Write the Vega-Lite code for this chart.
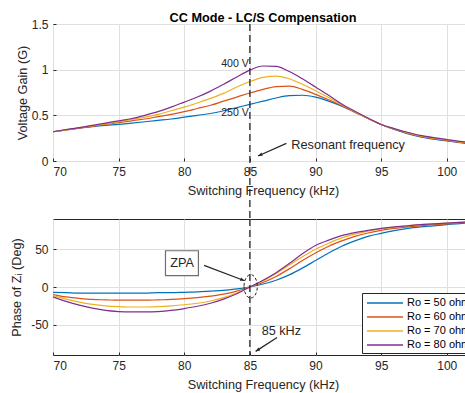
{
  "$schema": "https://vega.github.io/schema/vega-lite/v6.json",
  "background": "white",
  "padding": {"left": 10, "top": 11, "right": 0, "bottom": 0},
  "bounds": "flush",
  "spacing": 58,
  "config": {
    "font": "Liberation Sans",
    "view": {"stroke": "#262626", "strokeWidth": 1},
    "axis": {
      "grid": true, "gridColor": "#dfdfdf", "domain": false,
      "ticks": true, "tickSize": -3, "tickColor": "#262626",
      "labelFont": "Liberation Sans", "labelFontSize": 12, "labelColor": "#262626", "labelPadding": 8,
      "titleFont": "Liberation Sans", "titleFontSize": 12.7, "titleFontWeight": "normal", "titleColor": "#262626"
    },
    "axisX": {"titlePadding": 7},
    "axisY": {"minExtent": 0},
    "title": {"font": "Liberation Sans", "fontSize": 12.7, "fontWeight": "bold", "color": "#000000"}
  },
  "datasets": {
    "gain": [
      {"f":70,"v":0.32,"load":50},{"f":71,"v":0.34,"load":50},{"f":72,"v":0.36,"load":50},{"f":73,"v":0.375,"load":50},{"f":74,"v":0.39,"load":50},{"f":75,"v":0.40,"load":50},{"f":76,"v":0.415,"load":50},{"f":77,"v":0.43,"load":50},{"f":78,"v":0.445,"load":50},{"f":79,"v":0.46,"load":50},{"f":80,"v":0.48,"load":50},{"f":81,"v":0.50,"load":50},{"f":82,"v":0.52,"load":50},{"f":83,"v":0.55,"load":50},{"f":84,"v":0.585,"load":50},{"f":85,"v":0.62,"load":50},{"f":86,"v":0.655,"load":50},{"f":87,"v":0.69,"load":50},{"f":88,"v":0.715,"load":50},{"f":89,"v":0.72,"load":50},{"f":90,"v":0.70,"load":50},{"f":91,"v":0.655,"load":50},{"f":92,"v":0.60,"load":50},{"f":93,"v":0.535,"load":50},{"f":94,"v":0.465,"load":50},{"f":95,"v":0.40,"load":50},{"f":96,"v":0.345,"load":50},{"f":97,"v":0.30,"load":50},{"f":98,"v":0.265,"load":50},{"f":99,"v":0.24,"load":50},{"f":100,"v":0.22,"load":50},{"f":101,"v":0.20,"load":50},{"f":102,"v":0.185,"load":50},
      {"f":70,"v":0.32,"load":60},{"f":71,"v":0.34,"load":60},{"f":72,"v":0.36,"load":60},{"f":73,"v":0.38,"load":60},{"f":74,"v":0.40,"load":60},{"f":75,"v":0.42,"load":60},{"f":76,"v":0.44,"load":60},{"f":77,"v":0.46,"load":60},{"f":78,"v":0.485,"load":60},{"f":79,"v":0.51,"load":60},{"f":80,"v":0.54,"load":60},{"f":81,"v":0.575,"load":60},{"f":82,"v":0.61,"load":60},{"f":83,"v":0.655,"load":60},{"f":84,"v":0.70,"load":60},{"f":85,"v":0.745,"load":60},{"f":86,"v":0.785,"load":60},{"f":87,"v":0.815,"load":60},{"f":88,"v":0.82,"load":60},{"f":89,"v":0.785,"load":60},{"f":90,"v":0.73,"load":60},{"f":91,"v":0.67,"load":60},{"f":92,"v":0.605,"load":60},{"f":93,"v":0.535,"load":60},{"f":94,"v":0.465,"load":60},{"f":95,"v":0.40,"load":60},{"f":96,"v":0.35,"load":60},{"f":97,"v":0.305,"load":60},{"f":98,"v":0.27,"load":60},{"f":99,"v":0.245,"load":60},{"f":100,"v":0.225,"load":60},{"f":101,"v":0.205,"load":60},{"f":102,"v":0.19,"load":60},
      {"f":70,"v":0.32,"load":70},{"f":71,"v":0.34,"load":70},{"f":72,"v":0.365,"load":70},{"f":73,"v":0.385,"load":70},{"f":74,"v":0.405,"load":70},{"f":75,"v":0.43,"load":70},{"f":76,"v":0.455,"load":70},{"f":77,"v":0.48,"load":70},{"f":78,"v":0.51,"load":70},{"f":79,"v":0.55,"load":70},{"f":80,"v":0.59,"load":70},{"f":81,"v":0.635,"load":70},{"f":82,"v":0.685,"load":70},{"f":83,"v":0.74,"load":70},{"f":84,"v":0.81,"load":70},{"f":85,"v":0.87,"load":70},{"f":86,"v":0.915,"load":70},{"f":87,"v":0.93,"load":70},{"f":88,"v":0.90,"load":70},{"f":89,"v":0.84,"load":70},{"f":90,"v":0.77,"load":70},{"f":91,"v":0.695,"load":70},{"f":92,"v":0.615,"load":70},{"f":93,"v":0.54,"load":70},{"f":94,"v":0.465,"load":70},{"f":95,"v":0.40,"load":70},{"f":96,"v":0.35,"load":70},{"f":97,"v":0.31,"load":70},{"f":98,"v":0.275,"load":70},{"f":99,"v":0.25,"load":70},{"f":100,"v":0.23,"load":70},{"f":101,"v":0.21,"load":70},{"f":102,"v":0.195,"load":70},
      {"f":70,"v":0.32,"load":80},{"f":71,"v":0.345,"load":80},{"f":72,"v":0.365,"load":80},{"f":73,"v":0.39,"load":80},{"f":74,"v":0.415,"load":80},{"f":75,"v":0.44,"load":80},{"f":76,"v":0.465,"load":80},{"f":77,"v":0.50,"load":80},{"f":78,"v":0.54,"load":80},{"f":79,"v":0.59,"load":80},{"f":80,"v":0.645,"load":80},{"f":81,"v":0.70,"load":80},{"f":82,"v":0.765,"load":80},{"f":83,"v":0.84,"load":80},{"f":84,"v":0.92,"load":80},{"f":85,"v":0.995,"load":80},{"f":86,"v":1.04,"load":80},{"f":87,"v":1.035,"load":80},{"f":88,"v":0.98,"load":80},{"f":89,"v":0.90,"load":80},{"f":90,"v":0.81,"load":80},{"f":91,"v":0.72,"load":80},{"f":92,"v":0.625,"load":80},{"f":93,"v":0.545,"load":80},{"f":94,"v":0.47,"load":80},{"f":95,"v":0.40,"load":80},{"f":96,"v":0.355,"load":80},{"f":97,"v":0.315,"load":80},{"f":98,"v":0.28,"load":80},{"f":99,"v":0.255,"load":80},{"f":100,"v":0.235,"load":80},{"f":101,"v":0.215,"load":80},{"f":102,"v":0.20,"load":80}
    ],
    "phase": [
      {"f":70,"v":-7,"load":50},{"f":71,"v":-7.5,"load":50},{"f":72,"v":-8,"load":50},{"f":73,"v":-8,"load":50},{"f":74,"v":-8,"load":50},{"f":75,"v":-8,"load":50},{"f":76,"v":-8,"load":50},{"f":77,"v":-8,"load":50},{"f":78,"v":-7.5,"load":50},{"f":79,"v":-7.5,"load":50},{"f":80,"v":-7,"load":50},{"f":81,"v":-6.5,"load":50},{"f":82,"v":-5.5,"load":50},{"f":83,"v":-4.5,"load":50},{"f":84,"v":-2.5,"load":50},{"f":85,"v":0,"load":50},{"f":86,"v":4,"load":50},{"f":87,"v":9,"load":50},{"f":88,"v":16,"load":50},{"f":89,"v":25,"load":50},{"f":90,"v":35,"load":50},{"f":91,"v":45,"load":50},{"f":92,"v":54,"load":50},{"f":93,"v":61,"load":50},{"f":94,"v":67,"load":50},{"f":95,"v":71,"load":50},{"f":96,"v":74.5,"load":50},{"f":97,"v":77.5,"load":50},{"f":98,"v":79.5,"load":50},{"f":99,"v":81,"load":50},{"f":100,"v":82.5,"load":50},{"f":101,"v":84,"load":50},{"f":102,"v":85,"load":50},
      {"f":70,"v":-10,"load":60},{"f":71,"v":-13,"load":60},{"f":72,"v":-15,"load":60},{"f":73,"v":-16.5,"load":60},{"f":74,"v":-17,"load":60},{"f":75,"v":-17.5,"load":60},{"f":76,"v":-17.5,"load":60},{"f":77,"v":-17.5,"load":60},{"f":78,"v":-17,"load":60},{"f":79,"v":-16.5,"load":60},{"f":80,"v":-15.5,"load":60},{"f":81,"v":-14,"load":60},{"f":82,"v":-12,"load":60},{"f":83,"v":-9.5,"load":60},{"f":84,"v":-5.5,"load":60},{"f":85,"v":0,"load":60},{"f":86,"v":6,"load":60},{"f":87,"v":14,"load":60},{"f":88,"v":24,"load":60},{"f":89,"v":35,"load":60},{"f":90,"v":45,"load":60},{"f":91,"v":54,"load":60},{"f":92,"v":61,"load":60},{"f":93,"v":67,"load":60},{"f":94,"v":71.5,"load":60},{"f":95,"v":75,"load":60},{"f":96,"v":77.5,"load":60},{"f":97,"v":79.5,"load":60},{"f":98,"v":81,"load":60},{"f":99,"v":82.5,"load":60},{"f":100,"v":83.5,"load":60},{"f":101,"v":85,"load":60},{"f":102,"v":86,"load":60},
      {"f":70,"v":-11,"load":70},{"f":71,"v":-16,"load":70},{"f":72,"v":-20,"load":70},{"f":73,"v":-23,"load":70},{"f":74,"v":-25,"load":70},{"f":75,"v":-26,"load":70},{"f":76,"v":-26.5,"load":70},{"f":77,"v":-26.5,"load":70},{"f":78,"v":-26,"load":70},{"f":79,"v":-25,"load":70},{"f":80,"v":-23.5,"load":70},{"f":81,"v":-21.5,"load":70},{"f":82,"v":-18.5,"load":70},{"f":83,"v":-14,"load":70},{"f":84,"v":-8,"load":70},{"f":85,"v":0,"load":70},{"f":86,"v":8,"load":70},{"f":87,"v":18,"load":70},{"f":88,"v":29,"load":70},{"f":89,"v":40,"load":70},{"f":90,"v":50,"load":70},{"f":91,"v":58,"load":70},{"f":92,"v":65,"load":70},{"f":93,"v":70,"load":70},{"f":94,"v":74,"load":70},{"f":95,"v":77,"load":70},{"f":96,"v":79,"load":70},{"f":97,"v":81,"load":70},{"f":98,"v":82.5,"load":70},{"f":99,"v":83.5,"load":70},{"f":100,"v":84.5,"load":70},{"f":101,"v":85.5,"load":70},{"f":102,"v":86.5,"load":70},
      {"f":70,"v":-13,"load":80},{"f":71,"v":-19,"load":80},{"f":72,"v":-24,"load":80},{"f":73,"v":-28,"load":80},{"f":74,"v":-31,"load":80},{"f":75,"v":-32.5,"load":80},{"f":76,"v":-33,"load":80},{"f":77,"v":-33,"load":80},{"f":78,"v":-32.5,"load":80},{"f":79,"v":-31,"load":80},{"f":80,"v":-28.5,"load":80},{"f":81,"v":-25.5,"load":80},{"f":82,"v":-21.5,"load":80},{"f":83,"v":-16,"load":80},{"f":84,"v":-9,"load":80},{"f":85,"v":0,"load":80},{"f":86,"v":9,"load":80},{"f":87,"v":19,"load":80},{"f":88,"v":31,"load":80},{"f":89,"v":44,"load":80},{"f":90,"v":55,"load":80},{"f":91,"v":62,"load":80},{"f":92,"v":68,"load":80},{"f":93,"v":72,"load":80},{"f":94,"v":75,"load":80},{"f":95,"v":77.5,"load":80},{"f":96,"v":79.5,"load":80},{"f":97,"v":81,"load":80},{"f":98,"v":82.5,"load":80},{"f":99,"v":83.5,"load":80},{"f":100,"v":84.5,"load":80},{"f":101,"v":85.5,"load":80},{"f":102,"v":86.5,"load":80}
    ],
    "topNotes": [
      {"f":85,"v":1.06,"text":"400 V"},
      {"f":85,"v":0.524,"text":"250 V"}
    ],
    "botNotes": [
      {"f":79.83,"v":31.5,"text":"ZPA","align":"center"},
      {"f":87.4,"v":-57.8,"text":"85 kHz","align":"left"}
    ],
    "topArrows": [
      {"f":87.78,"v":0.193,"f2":85.62,"v2":0.055,"angle":245.8}
    ],
    "botArrows": [
      {"f":81.51,"v":28.6,"f2":84.6,"v2":8.3,"angle":110.7},
      {"f":87.07,"v":-66.7,"f2":85.44,"v2":-85.2,"angle":236.8}
    ],
    "one": [{}]
  },
  "resolve": {"scale": {"color": "independent"}, "legend": {"color": "independent"}},
  "vconcat": [
    {
      "width": 420, "height": 137,
      "title": {"text": "CC Mode - LC/S Compensation", "anchor": "middle", "offset": -7},
      "layer": [
        {
          "data": {"name": "gain"},
          "mark": {"type": "line", "strokeWidth": 1.2, "interpolate": "monotone"},
          "encoding": {
            "x": {"field": "f", "type": "quantitative", "scale": {"domain": [70, 102], "nice": false}, "axis": {"values": [70,75,80,85,90,95,100], "title": "Switching Frequency (kHz)"}},
            "y": {"field": "v", "type": "quantitative", "scale": {"domain": [0, 1.5], "nice": false}, "axis": {"values": [0,0.5,1,1.5], "format": "~g", "title": "Voltage Gain (G)", "titlePadding": 2}},
            "color": {"field": "load", "type": "nominal", "scale": {"domain": [50,60,70,80], "range": ["#0072BD","#D95319","#EDB120","#7E2F8E"]}, "legend": null}
          }
        },
        {
          "data": {"name": "one"},
          "mark": {"type": "rule", "strokeDash": [7, 4], "strokeWidth": 1.3, "color": "#262626"},
          "encoding": {"x": {"datum": 85}, "y": {"datum": 1.5}, "y2": {"datum": -0.66}}
        },
        {
          "data": {"name": "topNotes"},
          "mark": {"type": "text", "align": "right", "baseline": "middle", "dx": -1, "fontSize": 10.6, "color": "#262626"},
          "encoding": {"x": {"field": "f", "type": "quantitative"}, "y": {"field": "v", "type": "quantitative"}, "text": {"field": "text"}}
        },
        {
          "data": {"name": "topArrows"},
          "mark": {"type": "rule", "strokeWidth": 1.2, "color": "#262626"},
          "encoding": {"x": {"field": "f", "type": "quantitative"}, "y": {"field": "v", "type": "quantitative"}, "x2": {"field": "f2"}, "y2": {"field": "v2"}}
        },
        {
          "data": {"name": "topArrows"},
          "mark": {"type": "point", "shape": "M0,0L0.8,2L-0.8,2Z", "filled": true, "size": 20, "color": "#262626", "opacity": 1},
          "encoding": {"x": {"field": "f2", "type": "quantitative"}, "y": {"field": "v2", "type": "quantitative"}, "angle": {"field": "angle", "type": "quantitative", "scale": null}}
        },
        {
          "data": {"name": "one"},
          "mark": {"type": "text", "align": "left", "baseline": "middle", "fontSize": 12.7, "color": "#262626", "text": "Resonant frequency"},
          "encoding": {"x": {"datum": 88.16}, "y": {"datum": 0.175}}
        }
      ]
    },
    {
      "width": 420, "height": 136,
      "layer": [
        {
          "data": {"name": "phase"},
          "mark": {"type": "line", "strokeWidth": 1.2, "interpolate": "monotone"},
          "encoding": {
            "x": {"field": "f", "type": "quantitative", "scale": {"domain": [70, 102], "nice": false}, "axis": {"values": [70,75,80,85,90,95,100], "title": "Switching Frequency (kHz)"}},
            "y": {"field": "v", "type": "quantitative", "scale": {"domain": [-90, 90], "nice": false}, "axis": {"values": [-50,0,50], "labelExpr": "datum.value", "title": "Phase of Zᵢ (Deg)", "titlePadding": 7}},
            "color": {"field": "load", "type": "nominal", "scale": {"domain": [50,60,70,80], "range": ["#0072BD","#D95319","#EDB120","#7E2F8E"]},
              "legend": {"orient": "none", "legendX": 309, "legendY": 74, "title": null, "symbolType": "M-3,0H3", "symbolSize": 144, "symbolStrokeWidth": 1.3, "symbolOffset": 13, "labelOffset": 15, "labelFontSize": 11, "labelColor": "#000000", "labelExpr": "'Ro = ' + datum.label + ' ohm'", "strokeColor": "#262626", "fillColor": "white", "padding": 3, "rowPadding": 2}}
          }
        },
        {
          "data": {"name": "one"},
          "mark": {"type": "rule", "strokeDash": [7, 4], "strokeWidth": 1.3, "color": "#262626"},
          "encoding": {"x": {"datum": 85}, "y": {"datum": 90}, "y2": {"datum": -90}}
        },
        {
          "data": {"name": "one"},
          "mark": {"type": "point", "shape": "M-0.57,0A0.57,1 0 1,0 0.57,0A0.57,1 0 1,0 -0.57,0Z", "filled": false, "size": 548, "strokeDash": [3, 2], "strokeWidth": 1, "color": "#262626", "opacity": 1},
          "encoding": {"x": {"datum": 85.06}, "y": {"datum": 0.8}}
        },
        {
          "data": {"name": "one"},
          "mark": {"type": "rect", "fill": "white", "stroke": "#6e6e6e", "strokeWidth": 1.2},
          "encoding": {"x": {"datum": 78.57}, "x2": {"datum": 81.08}, "y": {"datum": 48}, "y2": {"datum": 15}}
        },
        {
          "data": {"name": "botNotes"},
          "mark": {"type": "text", "baseline": "middle", "fontSize": 12.7, "color": "#262626"},
          "encoding": {"x": {"field": "f", "type": "quantitative"}, "y": {"field": "v", "type": "quantitative"}, "text": {"field": "text"}, "align": {"field": "align"}}
        },
        {
          "data": {"name": "botArrows"},
          "mark": {"type": "rule", "strokeWidth": 1.2, "color": "#262626"},
          "encoding": {"x": {"field": "f", "type": "quantitative"}, "y": {"field": "v", "type": "quantitative"}, "x2": {"field": "f2"}, "y2": {"field": "v2"}}
        },
        {
          "data": {"name": "botArrows"},
          "mark": {"type": "point", "shape": "M0,0L0.8,2L-0.8,2Z", "filled": true, "size": 20, "color": "#262626", "opacity": 1},
          "encoding": {"x": {"field": "f2", "type": "quantitative"}, "y": {"field": "v2", "type": "quantitative"}, "angle": {"field": "angle", "type": "quantitative", "scale": null}}
        }
      ]
    }
  ]
}
